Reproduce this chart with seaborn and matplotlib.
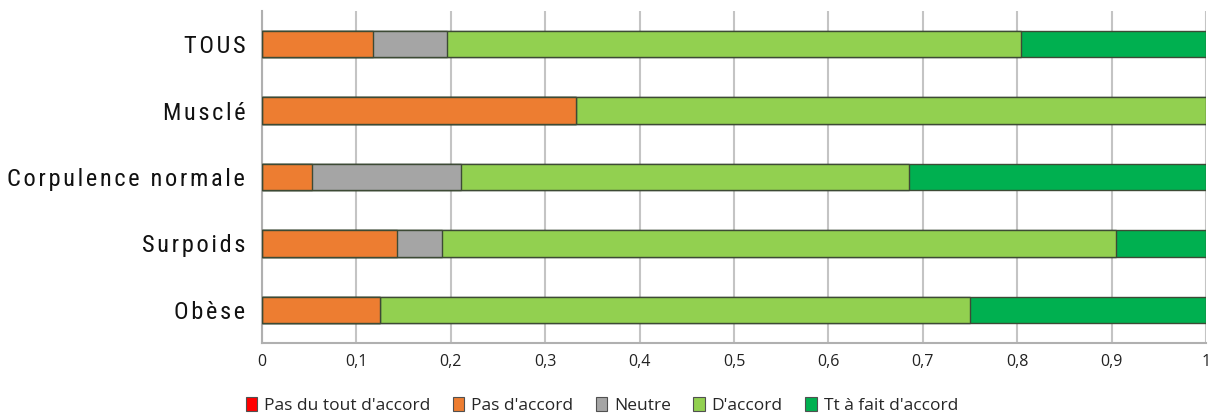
import numpy as np
import pandas as pd
import matplotlib
matplotlib.use("Agg")
import matplotlib.pyplot as plt
from matplotlib import font_manager
from matplotlib.patches import Patch
import seaborn as sns

# Share of answers per body-type group (each row sums to 1)
categories = ["TOUS", "Musclé", "Corpulence normale", "Surpoids", "Obèse"]
responses = ["Pas du tout d'accord", "Pas d'accord", "Neutre", "D'accord", "Tt à fait d'accord"]
pas_du_tout = [0.000, 0.000, 0.000, 0.000, 0.000]
pas_accord = [0.118, 0.333, 0.053, 0.143, 0.125]
neutre = [0.078, 0.000, 0.158, 0.048, 0.000]
accord = [0.608, 0.667, 0.474, 0.714, 0.625]
tout_a_fait = [0.196, 0.000, 0.315, 0.095, 0.250]
xticks = [0, 0.1, 0.2, 0.3, 0.4, 0.5, 0.6, 0.7, 0.8, 0.9, 1]
xtick_labels = ["0", "0,1", "0,2", "0,3", "0,4", "0,5", "0,6", "0,7", "0,8", "0,9", "1"]

colors = ["#FF0000", "#ED7D31", "#A5A5A5", "#92D050", "#00B050"]

series = [pas_du_tout, pas_accord, neutre, accord, tout_a_fait]
df = pd.DataFrame({r: v for r, v in zip(responses, series)}, index=categories)
cum = df.cumsum(axis=1)

sns.set_theme(style="white")

# Pick a narrow face for the category names when one is available
installed = {f.name: f for f in font_manager.fontManager.ttflist}
label_font = dict(family=["DejaVu Sans"], stretch="condensed")
for name in ["Liberation Sans Narrow", "Roboto Condensed", "Open Sans Condensed"]:
    if name in installed:
        label_font = dict(family=[name, "DejaVu Sans"], stretch="normal")
        break

fig = plt.figure(figsize=(12.11, 4.17), dpi=100)
ax = fig.add_axes([262 / 1211, 74 / 417, 944 / 1211, 332 / 417])

# Stacked bars: draw cumulative totals from the outermost segment inward
for resp, col in reversed(list(zip(responses, colors))):
    part = pd.DataFrame({"category": categories, "cum": cum[resp].values})
    sns.barplot(data=part, x="cum", y="category", order=categories, orient="h",
                color=col, saturation=1, width=0.4, edgecolor="#3d4a35",
                linewidth=1.0, ax=ax, zorder=3)

ax.set_xlim(0, 1)
ax.set_ylim(4.5, -0.5)
ax.set_xticks(xticks)
ax.set_xticklabels(xtick_labels, fontsize=11.5, family=["Open Sans", "DejaVu Sans"], color="#222222")
ax.set_xlabel("")
ax.set_ylabel("")
ax.set_yticks(range(len(categories)))
# Letter-spaced category names: hair gaps between letters, a wider one between words
spaced = ["\u2002".join("\u200a".join(w) for w in c.split(" ")) for c in categories]
ylabels = ax.set_yticklabels(spaced, fontsize=17, color="#111111", **label_font)
ax.tick_params(axis="both", length=0)
ax.tick_params(axis="y", pad=12)
ax.tick_params(axis="x", pad=8)

# Scale the category names so the longest one spans about 237 px
renderer = fig.canvas.get_renderer()
widest = max(t.get_window_extent(renderer).width for t in ylabels)
size = 17 * 237.0 / widest
for t in ylabels:
    t.set_fontsize(size)

ax.grid(axis="x", color="#c4c4c4", linewidth=1.5, zorder=0)
ax.grid(axis="y", visible=False)
for side in ["top", "right"]:
    ax.spines[side].set_visible(False)
for side in ["left", "bottom"]:
    ax.spines[side].set_color("#b0b0b0")
    ax.spines[side].set_linewidth(1.5)

handles = [Patch(facecolor=c, edgecolor="#505050", linewidth=0.8, label=r)
           for r, c in zip(responses, colors)]
fig.legend(handles=handles, loc="lower center", bbox_to_anchor=(0.497, -0.03), ncol=5,
           frameon=False, handlelength=0.65, handleheight=0.85, handletextpad=0.4,
           columnspacing=1.3, prop={"family": ["Open Sans", "DejaVu Sans"], "size": 12.5})

fig.savefig("out.png", dpi=100)
